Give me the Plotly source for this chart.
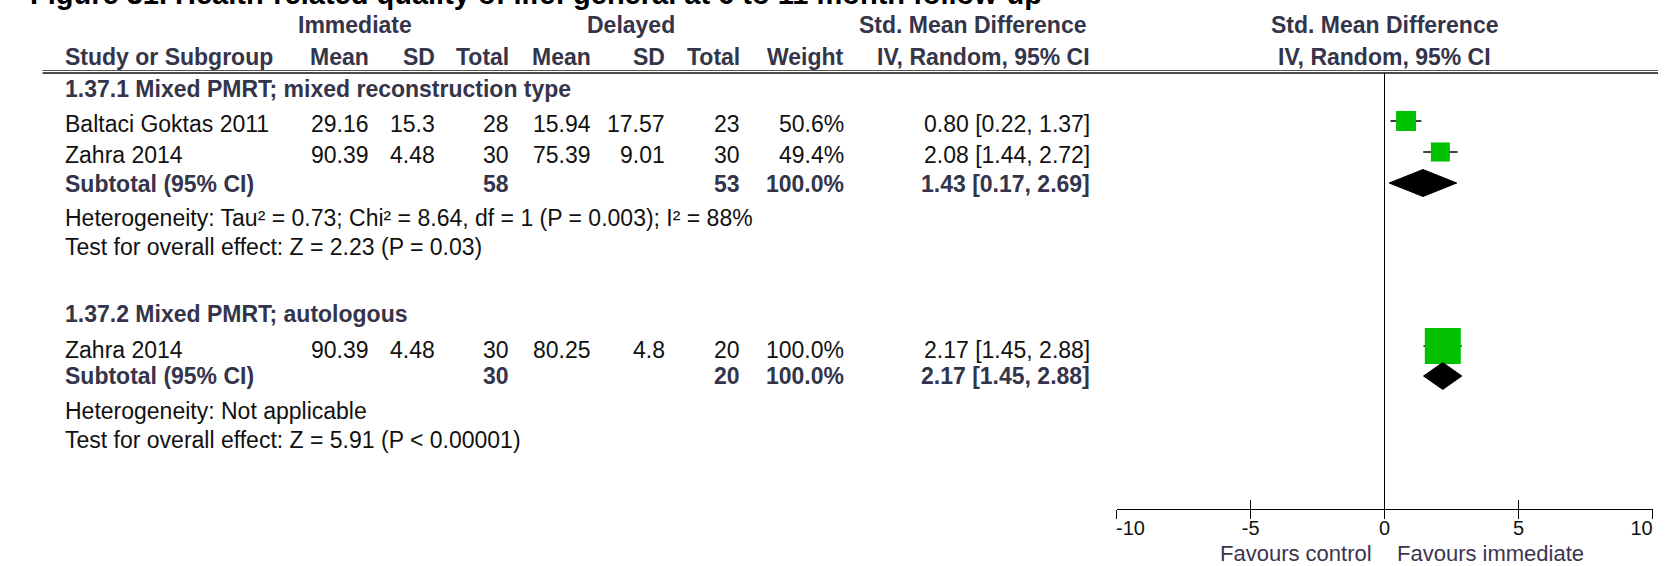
import plotly.graph_objects as go

W, H = 1680, 566

# ---------------- data ----------------
title = "Figure 31. Health-related quality of life: general at 6 to 11 month follow-up"
subgroups = ["1.37.1 Mixed PMRT; mixed reconstruction type", "1.37.2 Mixed PMRT; autologous"]
study_names = ["Baltaci Goktas 2011", "Zahra 2014", "Zahra 2014"]
imm_mean = [29.16, 90.39, 90.39]
imm_sd = [15.3, 4.48, 4.48]
imm_n = [28, 30, 30]
del_mean = [15.94, 75.39, 80.25]
del_sd = [17.57, 9.01, 4.8]
del_n = [23, 30, 20]
weights = [50.6, 49.4, 100.0]
smd = [0.80, 2.08, 2.17]
ci_lo = [0.22, 1.44, 1.45]
ci_hi = [1.37, 2.72, 2.88]

sub_imm_n = [58, 30]
sub_del_n = [53, 20]
sub_weight = [100.0, 100.0]
sub_smd = [1.43, 2.17]
sub_lo = [0.17, 1.45]
sub_hi = [2.69, 2.88]
het_text = ["Heterogeneity: Tau\u00b2 = 0.73; Chi\u00b2 = 8.64, df = 1 (P = 0.003); I\u00b2 = 88%",
            "Heterogeneity: Not applicable"]
test_text = ["Test for overall effect: Z = 2.23 (P = 0.03)",
             "Test for overall effect: Z = 5.91 (P < 0.00001)"]

x_ticks = [-10, -5, 0, 5, 10]
NB = "\u00a0"
x_tick_text = [NB * 5 + "-10", "-5", "0", "5", "10" + NB * 4]
favours_left = "Favours control"
favours_right = "Favours immediate"

# ---------------- layout (pixels) ----------------
FONT = "Liberation Sans, Arial, sans-serif"
HEAD_COL = "#34344a"
TXT_COL = "#111111"
GREEN = "#00c000"
FS = 23
FSB = 23

HEAD1_Y, HEAD2_Y = 25, 57
study_text_y = [124, 155, 350]
study_mark_y = [121, 152, 346]
sub_head_y = [89, 314]
sub_text_y = [184, 376]
sub_mark_y = [183, 376]
het_y = [218, 411]
test_y = [247, 440]
marker_px = [20, 19, 36]
diamond_half = 13.5
LINE1_Y, LINE2_Y = 70.5, 73

COL = dict(study=36, imm_mean=354, imm_sd=422, imm_n=498, del_mean=582,
           del_sd=659, del_n=736, weight=843, ci=1097)

AX_TOP, AX_BOT = 73, 509
X0_PX, X1_PX = 1122, 1674.5


def px(x):
    return x / W


def py(y):
    return 1 - y / H


ann = []


def text(s, x, y, anchor="left", bold=False, size=None, color=None):
    ann.append(dict(
        text=f"<b>{s}</b>" if bold else s,
        x=px(x), y=py(y), xref="paper", yref="paper",
        xanchor=anchor, yanchor="middle", showarrow=False,
        font=dict(family=FONT, size=size or (FSB if bold else FS),
                  color=color or (HEAD_COL if bold else TXT_COL)),
    ))


def fmt(v):
    return f"{v:g}"


# title (cut at top as in reference)
text(title, 0, -6, bold=True, size=29, color="#000000")

# column headers
text("Immediate", 337, HEAD1_Y, "center", bold=True)
text("Delayed", 621, HEAD1_Y, "center", bold=True)
text("Std. Mean Difference", 974, HEAD1_Y, "center", bold=True)
text("Study or Subgroup", COL["study"], HEAD2_Y, bold=True)
for key, lab in [("imm_mean", "Mean"), ("imm_sd", "SD"), ("imm_n", "Total"),
                 ("del_mean", "Mean"), ("del_sd", "SD"), ("del_n", "Total"),
                 ("weight", "Weight")]:
    text(lab, COL[key], HEAD2_Y, "right", bold=True)
text("IV, Random, 95% CI", COL["ci"], HEAD2_Y, "right", bold=True)

# plot header (centered on zero)
for s, y in [("Std. Mean Difference", HEAD1_Y), ("IV, Random, 95% CI", HEAD2_Y)]:
    ann.append(dict(text=f"<b>{s}</b>", x=0, y=py(y), xref="x", yref="paper",
                    xanchor="center", yanchor="middle", showarrow=False,
                    font=dict(family=FONT, size=FSB, color=HEAD_COL)))

# study rows
for i, name in enumerate(study_names):
    y = study_text_y[i]
    text(name, COL["study"], y)
    text(fmt(imm_mean[i]), COL["imm_mean"], y, "right")
    text(fmt(imm_sd[i]), COL["imm_sd"], y, "right")
    text(str(imm_n[i]), COL["imm_n"], y, "right")
    text(fmt(del_mean[i]), COL["del_mean"], y, "right")
    text(fmt(del_sd[i]), COL["del_sd"], y, "right")
    text(str(del_n[i]), COL["del_n"], y, "right")
    text(f"{weights[i]:.1f}%", COL["weight"], y, "right")
    text(f"{smd[i]:.2f} [{ci_lo[i]:.2f}, {ci_hi[i]:.2f}]", COL["ci"], y, "right")

# subgroup rows
for g, name in enumerate(subgroups):
    text(name, COL["study"], sub_head_y[g], bold=True)
    y = sub_text_y[g]
    text("Subtotal (95% CI)", COL["study"], y, bold=True)
    text(str(sub_imm_n[g]), COL["imm_n"], y, "right", bold=True)
    text(str(sub_del_n[g]), COL["del_n"], y, "right", bold=True)
    text(f"{sub_weight[g]:.1f}%", COL["weight"], y, "right", bold=True)
    text(f"{sub_smd[g]:.2f} [{sub_lo[g]:.2f}, {sub_hi[g]:.2f}]", COL["ci"], y, "right", bold=True)
    text(het_text[g], COL["study"], het_y[g])
    text(test_text[g], COL["study"], test_y[g])

# favours labels
for s, xv, anc in [(favours_left, -0.4, "right"), (favours_right, 0.4, "left")]:
    ann.append(dict(text=s, x=xv, y=py(553), xref="x", yref="paper",
                    xanchor=anc, yanchor="middle", showarrow=False,
                    font=dict(family=FONT, size=22, color="#3c3450")))

fig = go.Figure()

# CI whiskers (drawn first, squares on top)
wx, wy = [], []
for lo, hi, y in zip(ci_lo, ci_hi, study_mark_y):
    wx += [lo, hi, None]
    wy += [y, y, None]
fig.add_trace(go.Scatter(x=wx, y=wy, mode="lines", line=dict(color="black", width=1.3),
                         hoverinfo="skip", showlegend=False))

# study squares
fig.add_trace(go.Scatter(
    x=smd, y=study_mark_y, mode="markers",
    marker=dict(symbol="square", size=marker_px, color=GREEN, opacity=1,
                line=dict(width=0)),
    hoverinfo="skip", showlegend=False,
))

# subtotal diamonds
for g in range(len(subgroups)):
    yc = sub_mark_y[g]
    fig.add_trace(go.Scatter(
        x=[sub_lo[g], sub_smd[g], sub_hi[g], sub_smd[g], sub_lo[g]],
        y=[yc, yc - diamond_half, yc, yc + diamond_half, yc],
        mode="lines", fill="toself", fillcolor="black",
        line=dict(color="black", width=1), hoverinfo="skip", showlegend=False,
    ))

# invisible trace for overlay axis (inside ticks)
fig.add_trace(go.Scatter(x=[None], y=[None], xaxis="x2", yaxis="y",
                         showlegend=False, hoverinfo="skip"))

shapes = [
    dict(type="line", xref="paper", yref="paper", x0=px(15), x1=1, y0=py(LINE1_Y), y1=py(LINE1_Y),
         line=dict(color="#555555", width=1.2)),
    dict(type="line", xref="paper", yref="paper", x0=px(15), x1=1, y0=py(LINE2_Y), y1=py(LINE2_Y),
         line=dict(color="#111111", width=1.5)),
]

axis_common = dict(range=[-10, 10], domain=[px(X0_PX), px(X1_PX)], showgrid=False,
                   tickvals=x_ticks, ticklen=9, tickwidth=1.2, tickcolor="black")

fig.update_layout(
    width=W, height=H, margin=dict(l=0, r=0, t=0, b=0),
    paper_bgcolor="white", plot_bgcolor="white",
    xaxis=dict(**axis_common, ticktext=x_tick_text, ticks="outside",
               showline=True, linecolor="black", linewidth=1.2,
               zeroline=True, zerolinecolor="black", zerolinewidth=1.2,
               tickfont=dict(family=FONT, size=20, color=TXT_COL), fixedrange=True,
               ticklabelstandoff=-8, ticklabeloverflow="allow", anchor="y"),
    xaxis2=dict(**axis_common, ticks="inside", showticklabels=False, overlaying="x",
                anchor="y", side="bottom", zeroline=False, showline=False),
    yaxis=dict(range=[AX_BOT, AX_TOP], domain=[py(AX_BOT), py(AX_TOP)], visible=False,
               fixedrange=True),
    annotations=ann, shapes=shapes,
)

fig.write_html(
    "out.html",
    config={"displayModeBar": False, "staticPlot": True},
    post_script="document.body.style.margin='0';document.body.style.overflow='hidden';",
)
